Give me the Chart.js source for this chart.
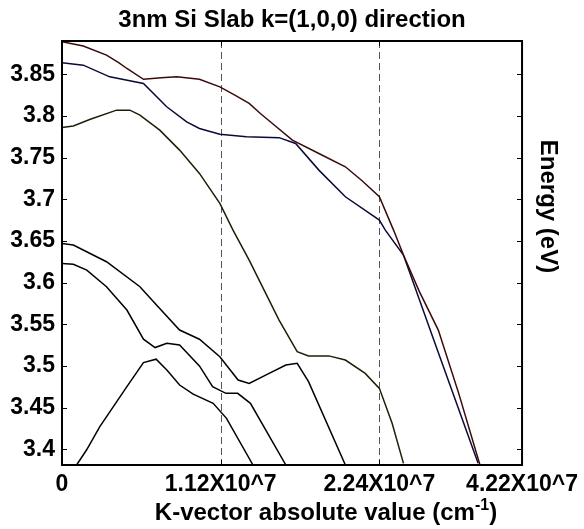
<!DOCTYPE html>
<html>
<head>
<meta charset="utf-8">
<title>3nm Si Slab k=(1,0,0) direction</title>
<script src="https://cdn.jsdelivr.net/npm/chart.js@4.4.1/dist/chart.umd.min.js"></script>
<style>
  html, body { margin: 0; padding: 0; background: #fff; }
  #wrap { width: 584px; height: 529px; }
</style>
</head>
<body>
<div id="wrap"><canvas id="bandChart"></canvas></div>
<script>
// axis ticks (x positions are where the labels sit on the plot)
const tickPos = [0, 1.12, 2.24, 3.247];
const tickLabels = ['0', '1.12X10^7', '2.24X10^7', '4.22X10^7'];
const energyTicks = [3.4, 3.45, 3.5, 3.55, 3.6, 3.65, 3.7, 3.75, 3.8, 3.85];

// bands
const band1K = [0, 0.15, 0.314, 0.4, 0.458, 0.575, 0.7, 0.81, 0.97, 1.114, 1.22, 1.321, 1.4, 1.485, 1.626, 1.813, 2.0, 2.12, 2.24, 2.34, 2.41, 2.52, 2.656, 2.8, 2.95];
const band1E = [3.889, 3.884, 3.873, 3.864, 3.857, 3.844, 3.846, 3.847, 3.844, 3.835, 3.825, 3.815, 3.803, 3.791, 3.771, 3.755, 3.739, 3.722, 3.703, 3.663, 3.633, 3.59, 3.543, 3.467, 3.381];

const band2K = [0, 0.15, 0.337, 0.575, 0.739, 0.88, 0.97, 1.114, 1.302, 1.532, 1.649, 1.813, 2.0, 2.24, 2.282, 2.41, 2.633, 2.937];
const band2E = [3.864, 3.861, 3.847, 3.839, 3.811, 3.793, 3.785, 3.778, 3.775, 3.774, 3.767, 3.735, 3.703, 3.675, 3.663, 3.633, 3.527, 3.383];

const band3K = [0, 0.08, 0.2, 0.385, 0.479, 0.55, 0.69, 0.83, 0.97, 1.114, 1.207, 1.321, 1.532, 1.66, 1.74, 1.883, 2.0, 2.14, 2.24, 2.33, 2.41];
const band3E = [3.786, 3.788, 3.796, 3.807, 3.807, 3.801, 3.783, 3.759, 3.731, 3.695, 3.663, 3.627, 3.555, 3.517, 3.512, 3.512, 3.507, 3.491, 3.473, 3.431, 3.383];

const band4K = [0, 0.08, 0.314, 0.55, 0.667, 0.83, 0.97, 1.114, 1.243, 1.321, 1.462, 1.58, 1.66, 1.74, 2.0];
const band4E = [3.647, 3.645, 3.625, 3.595, 3.573, 3.543, 3.532, 3.511, 3.483, 3.479, 3.491, 3.501, 3.503, 3.481, 3.381];

const band5K = [0, 0.08, 0.175, 0.314, 0.458, 0.575, 0.657, 0.74, 0.83, 0.97, 1.063, 1.157, 1.24, 1.33, 1.58];
const band5E = [3.623, 3.622, 3.615, 3.595, 3.567, 3.532, 3.522, 3.527, 3.525, 3.5, 3.475, 3.467, 3.467, 3.455, 3.381];

const band6K = [0.103, 0.173, 0.267, 0.458, 0.575, 0.664, 0.74, 0.83, 0.926, 1.067, 1.161, 1.348];
const band6E = [3.381, 3.399, 3.427, 3.475, 3.504, 3.508, 3.495, 3.477, 3.466, 3.455, 3.437, 3.381];

const FONT = "'Liberation Sans', Arial, Helvetica, sans-serif";
const TITLE = '3nm Si Slab k=(1,0,0) direction';

function pts(ks, es) {
  return ks.map((k, i) => ({ x: k, y: es[i] }));
}

function band(ks, es, color) {
  return {
    data: pts(ks, es),
    borderColor: color,
    borderWidth: 1.5,
    pointRadius: 0,
    tension: 0,
    fill: false
  };
}

// box, inward ticks and the dashed guide lines
const frame = {
  id: 'frame',
  beforeDatasetsDraw(chart) {
    const { ctx, chartArea: a, scales: { x } } = chart;
    ctx.save();
    ctx.strokeStyle = '#555';
    ctx.lineWidth = 1;
    ctx.setLineDash([7, 4]);
    [tickPos[1], tickPos[2]].forEach(v => {
      const px = Math.round(x.getPixelForValue(v)) + 0.5;
      ctx.beginPath();
      ctx.moveTo(px, a.top);
      ctx.lineTo(px, a.bottom);
      ctx.stroke();
    });
    ctx.restore();
  },
  afterDatasetsDraw(chart) {
    const { ctx, chartArea: a, scales: { x, y } } = chart;
    ctx.save();
    ctx.strokeStyle = '#000';
    ctx.lineWidth = 1;
    energyTicks.forEach(v => {
      const py = Math.round(y.getPixelForValue(v)) + 0.5;
      ctx.beginPath();
      ctx.moveTo(a.left, py); ctx.lineTo(a.left + 5, py);
      ctx.moveTo(a.right, py); ctx.lineTo(a.right - 5, py);
      ctx.stroke();
    });
    tickPos.forEach(v => {
      const px = Math.round(x.getPixelForValue(v)) + 0.5;
      ctx.beginPath();
      ctx.moveTo(px, a.bottom); ctx.lineTo(px, a.bottom - 5);
      ctx.moveTo(px, a.top); ctx.lineTo(px, a.top + 5);
      ctx.stroke();
    });
    ctx.lineWidth = 2;
    ctx.strokeRect(a.left, a.top, a.right - a.left, a.bottom - a.top);
    ctx.restore();
  }
};

// title and axis titles (x one has a superscript, y one sits on the right)
const axisTitles = {
  id: 'axisTitles',
  afterDraw(chart) {
    const { ctx, chartArea: a } = chart;
    ctx.save();
    ctx.fillStyle = '#000';
    ctx.textBaseline = 'alphabetic';

    const main = 'bold 24px ' + FONT;
    const sup = 'bold 16px ' + FONT;

    ctx.font = main;
    ctx.textAlign = 'center';
    ctx.fillText(TITLE, (a.left + a.right) / 2, 27);

    const p1 = 'K-vector absolute value (cm';
    const p2 = '-1';
    const p3 = ')';
    const w1 = ctx.measureText(p1).width;
    const w3 = ctx.measureText(p3).width;
    ctx.font = sup;
    const w2 = ctx.measureText(p2).width;
    let xx = 326 - (w1 + w2 + w3) / 2;
    const base = 520;
    ctx.textAlign = 'left';
    ctx.font = main;
    ctx.fillText(p1, xx, base);
    xx += w1;
    ctx.font = sup;
    ctx.fillText(p2, xx, base - 10);
    xx += w2;
    ctx.font = main;
    ctx.fillText(p3, xx, base);

    ctx.translate(541, 206.5);
    ctx.rotate(Math.PI / 2);
    ctx.textAlign = 'center';
    ctx.font = main;
    ctx.fillText('Energy (eV)', 0, 0);
    ctx.restore();
  }
};

const bandChart = new Chart(document.getElementById('bandChart'), {
  type: 'line',
  data: {
    datasets: [
      band(band1K, band1E, '#3a0a0a'),
      band(band2K, band2E, '#0a0a3a'),
      band(band3K, band3E, '#1e1e06'),
      band(band4K, band4E, '#000'),
      band(band5K, band5E, '#000'),
      band(band6K, band6E, '#000')
    ]
  },
  options: {
    responsive: true,
    maintainAspectRatio: false,
    animation: false,
    devicePixelRatio: 1,
    layout: { padding: { left: 0, right: 60, top: 41, bottom: 0 } },
    plugins: {
      legend: { display: false },
      tooltip: { enabled: false },
      title: { display: false }
    },
    scales: {
      x: {
        type: 'linear',
        min: 0,
        max: tickPos[3],
        afterBuildTicks: s => { s.ticks = tickPos.map(v => ({ value: v })); },
        afterFit: s => { s.height = 64; },
        grid: { display: false, drawTicks: false },
        border: { display: false },
        ticks: {
          autoSkip: false,
          maxRotation: 0,
          padding: 6,
          color: '#000',
          font: { family: FONT, size: 23, weight: 'bold' },
          callback: (v, i) => tickLabels[i]
        }
      },
      y: {
        min: 3.381,
        max: 3.89,
        afterBuildTicks: s => { s.ticks = energyTicks.map(v => ({ value: v })); },
        afterFit: s => { s.width = 62; },
        grid: { display: false, drawTicks: false },
        border: { display: false },
        ticks: {
          padding: 7,
          color: '#000',
          font: { family: FONT, size: 23, weight: 'bold' },
          callback: v => String(+v.toFixed(2))
        }
      }
    }
  },
  plugins: [frame, axisTitles]
});
</script>
</body>
</html>
